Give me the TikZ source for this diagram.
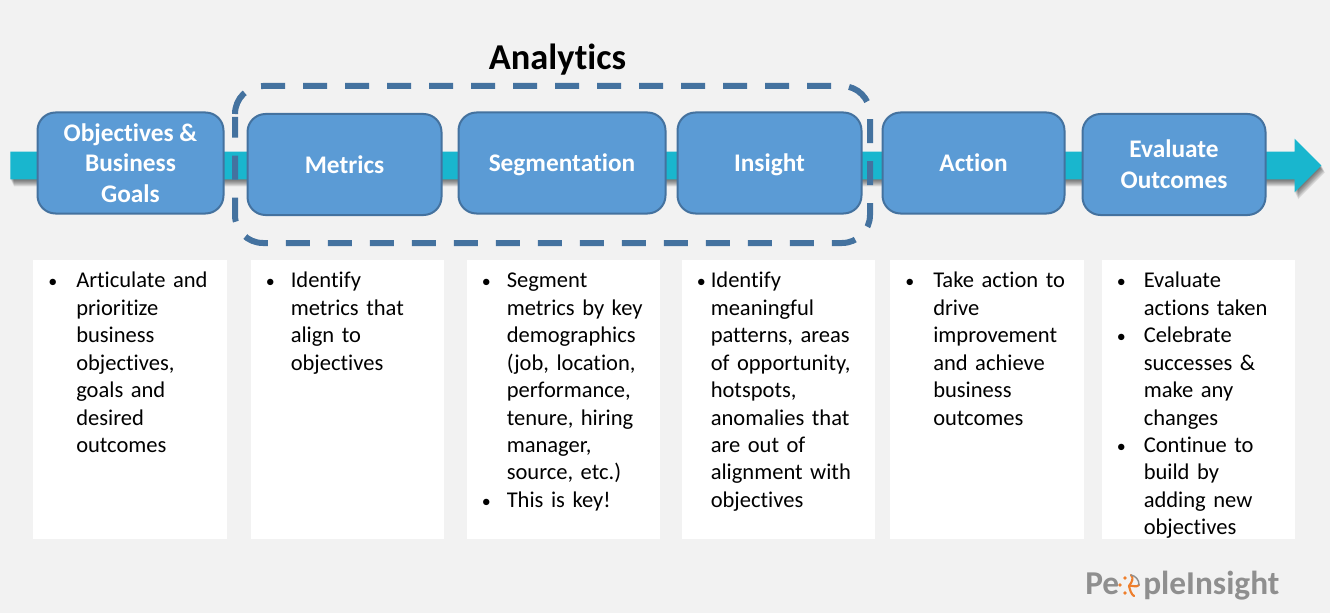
\documentclass[tikz,border=0pt]{standalone}
\usepackage{fontspec}
\setmainfont[Ligatures=NoCommon]{Carlito}
\usetikzlibrary{shapes.arrows}
\definecolor{pagebg}{HTML}{F2F2F2}
\definecolor{boxfill}{HTML}{5B9BD5}
\definecolor{boxline}{HTML}{44729F}
\definecolor{flowcol}{HTML}{19B6CE}
\definecolor{logogray}{HTML}{8F8F8F}
\definecolor{logoorange}{HTML}{EE7F2D}
\newcommand{\bulitem}[2]{\hangindent=#1\hangafter=1\let\\\newline\makebox[#1][l]{\scalebox{0.8}{•}}#2\par}
\begin{document}
\begin{tikzpicture}[
    x=0.75pt, y=-0.75pt,
    node distance=150pt,
    stage/.style={rectangle, draw=boxline, line width=1.5pt, fill=boxfill, text=white, align=center, rounded corners=13.5pt, minimum height=75.75pt, font=\fontsize{19}{23}\selectfont\bfseries, inner sep=0pt},
    oneline/.style={text height=18pt, text depth=5pt},
    panel/.style={rectangle, fill=white, align=left, text width=122.625pt, inner xsep=11.25pt, inner ysep=0pt, text height=20.75pt, text depth=188.5pt, font=\fontsize{16.9}{20.6}\selectfont},
    flow/.style={single arrow, single arrow head extend=9.75pt, single arrow tip angle=90, single arrow head indent=0pt, minimum height=983.25pt, inner sep=10.125pt, anchor=tail},
    logotext/.style={text=logogray, inner sep=0pt, font=\fontsize{25}{25}\selectfont\bfseries},
    frameline/.style={draw=boxline, line width=4.5pt, rounded corners=21pt, dash pattern=on 18pt off 13.5pt}
]
    \useasboundingbox [fill=pagebg] (0,0) rectangle (1330,613);

    % Flow arrow with its soft shadow
    \foreach \off in {1,...,7}
        \node [flow, fill=black, fill opacity=0.09] at (10+0.5*\off,165.5+\off) {};
    \node [flow, fill=flowcol] (flowarrow) at (10,165.5) {};

    % Stages
    \node [stage, minimum width=139.5pt] (objectives) at (130.5,163) {Objectives \&\\Business\\Goals};
    \node [stage, oneline, minimum width=145.5pt, right of=objectives, xshift=10.5pt, yshift=-1.125pt] (metrics) {Metrics};
    \node [stage, oneline, minimum width=155.25pt, right of=metrics, xshift=13.125pt, yshift=1.125pt] (segmentation) {Segmentation};
    \node [stage, oneline, minimum width=138pt, right of=segmentation, xshift=5.625pt] (insight) {Insight};
    \node [stage, oneline, minimum width=136.5pt, right of=insight, xshift=3pt] (action) {Action};
    \node [stage, minimum width=137.25pt, right of=action, xshift=0.375pt, yshift=-1.125pt] (evaluate) {Evaluate\\Outcomes};

    % Text panels
    \node [panel, below of=objectives, xshift=-0.375pt, yshift=-27.375pt] (objectivestext) {\bulitem{21pt}{Articulate and\\prioritize\\business\\objectives,\\goals and\\desired\\outcomes}};
    \node [panel, below of=metrics, xshift=2.25pt, yshift=-26.25pt] (metricstext) {\bulitem{18.75pt}{Identify\\metrics that\\align to\\objectives}};
    \node [panel, below of=segmentation, xshift=1.125pt, yshift=-27.375pt] (segmentationtext) {\bulitem{18.75pt}{Segment\\metrics by key\\demographics\\(job, location,\\performance,\\tenure, hiring\\manager,\\source, etc.)}\bulitem{18.75pt}{This is key!}};
    \node [panel, below of=insight, xshift=6.75pt, yshift=-27.375pt] (insighttext) {\bulitem{10.5pt}{Identify\\meaningful\\patterns, areas\\of opportunity,\\hotspots,\\anomalies that\\are out of\\alignment with\\objectives}};
    \node [panel, below of=action, xshift=10.125pt, yshift=-27.375pt] (actiontext) {\bulitem{21pt}{Take action to\\drive\\improvement\\and achieve\\business\\outcomes}};
    \node [panel, below of=evaluate, xshift=18.375pt, yshift=-26.25pt] (evaluatetext) {\bulitem{20.25pt}{Evaluate\\actions taken}\bulitem{20.25pt}{Celebrate\\successes \&\\make any\\changes}\bulitem{20.25pt}{Continue to\\build by\\adding new\\objectives}};

    % Analytics frame
    \coordinate (framestart) at (235,114);
    \coordinate (frameend) at (235,117);
    \coordinate (framecornera) at (870,86);
    \coordinate (framecornerb) at (235,243);
    \draw [frameline] (framestart) |- (framecornera) |- (framecornerb) -- (frameend);
    \node [font=\fontsize{27.3}{30}\selectfont\bfseries] (analytics) at (557.5,60) {Analytics};

    % Logo
    \node [logotext, anchor=base west] (logoleft) at (1085,594) {Pe};
    \node [logotext, anchor=base west] (logoright) at (1143,594) {pleInsight};
    \draw [logoorange, line width=1.6pt, line cap=round] (1129,586) .. controls (1132,582) and (1134,578) .. (1131,575);
    \draw [logoorange, line width=1.6pt, line cap=round] (1129,586) .. controls (1133,585) and (1136,588) .. (1139,585);
    \draw [logoorange, line width=1.6pt, line cap=round] (1129,586) .. controls (1130,590) and (1131,594) .. (1134,596);
    \draw [logogray, line width=1.1pt, line cap=round] (1131,575) .. controls (1136,576) and (1139,580) .. (1139,585);
    \fill [logoorange] (1125,578) circle (1.9) (1120,585) circle (1.9) (1125,593) circle (1.9);
\end{tikzpicture}
\end{document}
